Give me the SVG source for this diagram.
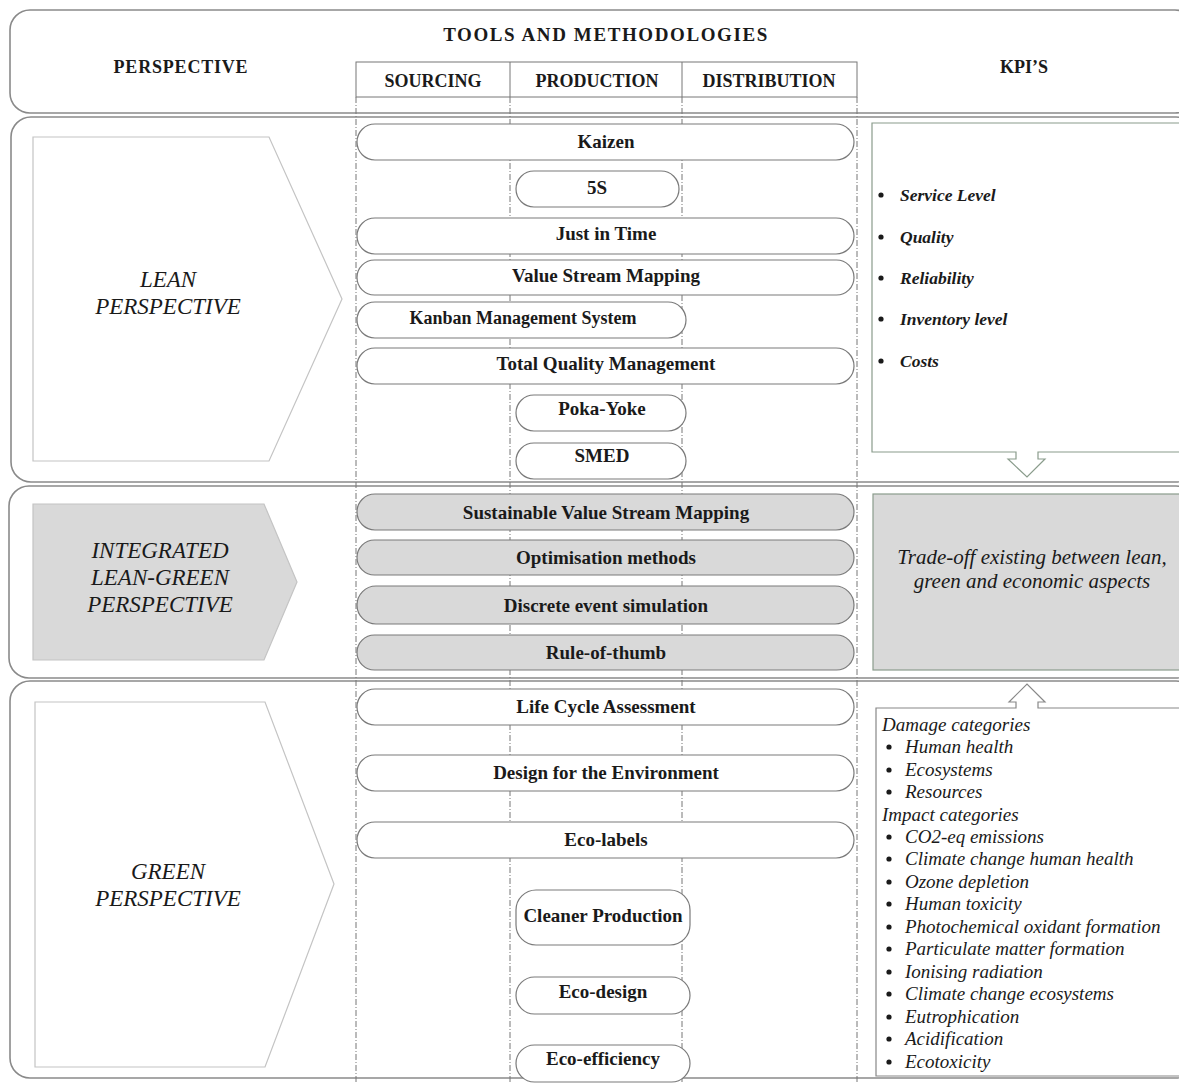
<svg xmlns="http://www.w3.org/2000/svg" width="1179" height="1083" viewBox="0 0 1179 1083">
<style>
.sec{fill:#fff;stroke:#8a8a8a;stroke-width:1.6}
.hdr{font-family:"Liberation Serif",serif;font-weight:bold;font-size:18px;fill:#1a1a1a;text-anchor:middle}
.col{fill:#fff;stroke:#777;stroke-width:1}
.dash{stroke:#777;stroke-width:1;stroke-dasharray:6 2 1 2;fill:none}
.pent{fill:#fff;stroke:#c4c4c4;stroke-width:1.2}
.pentg{fill:#d9d9d9;stroke:#c4c4c4;stroke-width:1.2}
.persp{font-family:"Liberation Serif",serif;font-style:italic;font-size:23px;fill:#1a1a1a;text-anchor:middle}
.pill{fill:#fff;stroke:#7a7a7a;stroke-width:1.2}
.pillg{fill:#d9d9d9;stroke:#7a7a7a;stroke-width:1.2}
.pt{font-family:"Liberation Serif",serif;font-weight:bold;font-size:19px;fill:#1a1a1a;text-anchor:middle}
.kbox{fill:#fff;stroke:#8a9c8c;stroke-width:1.2}
.kboxg{fill:#d9d9d9;stroke:#8a9c8c;stroke-width:1.2}
.kt{font-family:"Liberation Serif",serif;font-style:italic;font-weight:bold;font-size:17.5px;fill:#1a1a1a}
.gt{font-family:"Liberation Serif",serif;font-style:italic;font-size:19px;fill:#1a1a1a}
.tt{font-family:"Liberation Serif",serif;font-style:italic;font-size:21px;fill:#1a1a1a;text-anchor:middle}
.dot{fill:#1a1a1a}
</style>
<rect width="1179" height="1083" fill="#fff"/>
<g id="header">
<rect class="sec" x="10" y="10" width="1185" height="103" rx="20"/>
<text class="hdr" x="606" y="41" style="font-size:19px;letter-spacing:1.6px">TOOLS AND METHODOLOGIES</text>
<text class="hdr" x="181" y="73" style="letter-spacing:0.8px">PERSPECTIVE</text>
<text class="hdr" x="1024" y="73">KPI’S</text>
</g>
<g id="section-lean"><rect class="sec" x="11" y="117" width="1185" height="365" rx="20"/></g>
<g id="section-integrated"><rect class="sec" x="9" y="486" width="1187" height="192" rx="20"/></g>
<g id="section-green"><rect class="sec" x="10" y="681" width="1186" height="397" rx="20"/></g>
<g id="columns">
<rect class="col" x="356" y="62" width="501" height="35"/>
<line class="col" x1="510" y1="62" x2="510" y2="97"/>
<line class="col" x1="682" y1="62" x2="682" y2="97"/>
<text class="hdr" x="433" y="87">SOURCING</text>
<text class="hdr" x="597" y="87">PRODUCTION</text>
<text class="hdr" x="769" y="87">DISTRIBUTION</text>
</g>
<g id="connectors">
<line class="dash" x1="356" y1="97" x2="356" y2="1083"/>
<line class="dash" x1="510" y1="97" x2="510" y2="1083"/>
<line class="dash" x1="682" y1="97" x2="682" y2="1083"/>
<line class="dash" x1="857" y1="97" x2="857" y2="1083"/>
</g>
<g id="lean-perspective">
<polygon class="pent" points="33,137 269,137 342,299 269,461 33,461"/>
<text class="persp" x="168" y="287">LEAN</text>
<text class="persp" x="168" y="314">PERSPECTIVE</text>
</g>
<g id="integrated-perspective">
<polygon class="pentg" points="33,504 264,504 297,582 264,660 33,660"/>
<text class="persp" x="160" y="558">INTEGRATED</text>
<text class="persp" x="160" y="585">LEAN-GREEN</text>
<text class="persp" x="160" y="612">PERSPECTIVE</text>
</g>
<g id="green-perspective">
<polygon class="pent" points="35,702 265,702 334,884 265,1067 35,1067"/>
<text class="persp" x="168" y="879">GREEN</text>
<text class="persp" x="168" y="906">PERSPECTIVE</text>
</g>
<g id="kaizen"><rect class="pill" x="357" y="124" width="497" height="36" rx="18"/><text class="pt" x="606" y="148">Kaizen</text></g>
<g id="5s"><rect class="pill" x="516" y="171" width="163" height="36" rx="18"/><text class="pt" x="597" y="194">5S</text></g>
<g id="jit"><rect class="pill" x="357" y="218" width="497" height="36" rx="18"/><text class="pt" x="606" y="240">Just in Time</text></g>
<g id="vsm"><rect class="pill" x="357" y="260" width="497" height="35" rx="17.5"/><text class="pt" x="606" y="282">Value Stream Mapping</text></g>
<g id="kanban"><rect class="pill" x="357" y="302" width="329" height="36" rx="18"/><text class="pt" x="523" y="324" style="font-size:18px">Kanban Management System</text></g>
<g id="tqm"><rect class="pill" x="357" y="348" width="497" height="36" rx="18"/><text class="pt" x="606" y="370">Total Quality Management</text></g>
<g id="pokayoke"><rect class="pill" x="516" y="395" width="170" height="36" rx="18"/><text class="pt" x="602" y="415">Poka-Yoke</text></g>
<g id="smed"><rect class="pill" x="516" y="443" width="170" height="36" rx="18"/><text class="pt" x="602" y="462">SMED</text></g>
<g id="svsm"><rect class="pillg" x="357" y="494" width="497" height="36" rx="18"/><text class="pt" x="606" y="519">Sustainable Value Stream Mapping</text></g>
<g id="optimisation"><rect class="pillg" x="357" y="540" width="497" height="35" rx="17.5"/><text class="pt" x="606" y="564">Optimisation methods</text></g>
<g id="des"><rect class="pillg" x="357" y="586" width="497" height="38" rx="19"/><text class="pt" x="606" y="612">Discrete event simulation</text></g>
<g id="rule"><rect class="pillg" x="357" y="635" width="497" height="35" rx="17.5"/><text class="pt" x="606" y="659">Rule-of-thumb</text></g>
<g id="lca"><rect class="pill" x="357" y="689" width="497" height="36" rx="18"/><text class="pt" x="606" y="713">Life Cycle Assessment</text></g>
<g id="dfe"><rect class="pill" x="357" y="755" width="497" height="36" rx="18"/><text class="pt" x="606" y="779">Design for the Environment</text></g>
<g id="ecolabels"><rect class="pill" x="357" y="822" width="497" height="36" rx="18"/><text class="pt" x="606" y="846">Eco-labels</text></g>
<g id="cleaner"><rect class="pill" x="516" y="890" width="174" height="55" rx="20"/><text class="pt" x="603" y="922">Cleaner Production</text></g>
<g id="ecodesign"><rect class="pill" x="516" y="977" width="174" height="37" rx="18.5"/><text class="pt" x="603" y="998">Eco-design</text></g>
<g id="ecoefficiency"><rect class="pill" x="516" y="1045" width="174" height="37" rx="18.5"/><text class="pt" x="603" y="1065">Eco-efficiency</text></g>
<g id="kpi-lean">
<path class="kbox" d="M872,123 H1190 V452 H1038 V459 H1045 L1027,477 L1008,459 H1016 V452 H872 Z"/>
<circle class="dot" cx="881" cy="195" r="2.6"/><text class="kt" x="900" y="201">Service Level</text>
<circle class="dot" cx="881" cy="237" r="2.6"/><text class="kt" x="900" y="243">Quality</text>
<circle class="dot" cx="881" cy="278" r="2.6"/><text class="kt" x="900" y="284">Reliability</text>
<circle class="dot" cx="881" cy="319" r="2.6"/><text class="kt" x="900" y="325">Inventory level</text>
<circle class="dot" cx="881" cy="361" r="2.6"/><text class="kt" x="900" y="367">Costs</text>
</g>
<g id="kpi-integrated">
<rect class="kboxg" x="873" y="494" width="320" height="176"/>
<text class="tt" x="1032" y="564">Trade-off existing between lean,</text>
<text class="tt" x="1032" y="588">green and economic aspects</text>
</g>
<g id="kpi-green">
<path class="kbox" style="stroke:#888" d="M876,708 H1016 V702 H1009 L1027,684 L1045,702 H1038 V708 H1190 V1076 H876 Z"/>
<text class="gt" x="882" y="731">Damage categories</text>
<circle class="dot" cx="889" cy="747" r="2.6"/><text class="gt" x="905" y="753">Human health</text>
<circle class="dot" cx="889" cy="770" r="2.6"/><text class="gt" x="905" y="776">Ecosystems</text>
<circle class="dot" cx="889" cy="792" r="2.6"/><text class="gt" x="905" y="798">Resources</text>
<text class="gt" x="882" y="821">Impact categories</text>
<circle class="dot" cx="889" cy="837" r="2.6"/><text class="gt" x="905" y="843">CO2-eq emissions</text>
<circle class="dot" cx="889" cy="859" r="2.6"/><text class="gt" x="905" y="865">Climate change human health</text>
<circle class="dot" cx="889" cy="882" r="2.6"/><text class="gt" x="905" y="888">Ozone depletion</text>
<circle class="dot" cx="889" cy="904" r="2.6"/><text class="gt" x="905" y="910">Human toxicity</text>
<circle class="dot" cx="889" cy="927" r="2.6"/><text class="gt" x="905" y="933">Photochemical oxidant formation</text>
<circle class="dot" cx="889" cy="949" r="2.6"/><text class="gt" x="905" y="955">Particulate matter formation</text>
<circle class="dot" cx="889" cy="972" r="2.6"/><text class="gt" x="905" y="978">Ionising radiation</text>
<circle class="dot" cx="889" cy="994" r="2.6"/><text class="gt" x="905" y="1000">Climate change ecosystems</text>
<circle class="dot" cx="889" cy="1017" r="2.6"/><text class="gt" x="905" y="1023">Eutrophication</text>
<circle class="dot" cx="889" cy="1039" r="2.6"/><text class="gt" x="905" y="1045">Acidification</text>
<circle class="dot" cx="889" cy="1062" r="2.6"/><text class="gt" x="905" y="1068">Ecotoxicity</text>
</g>
</svg>
